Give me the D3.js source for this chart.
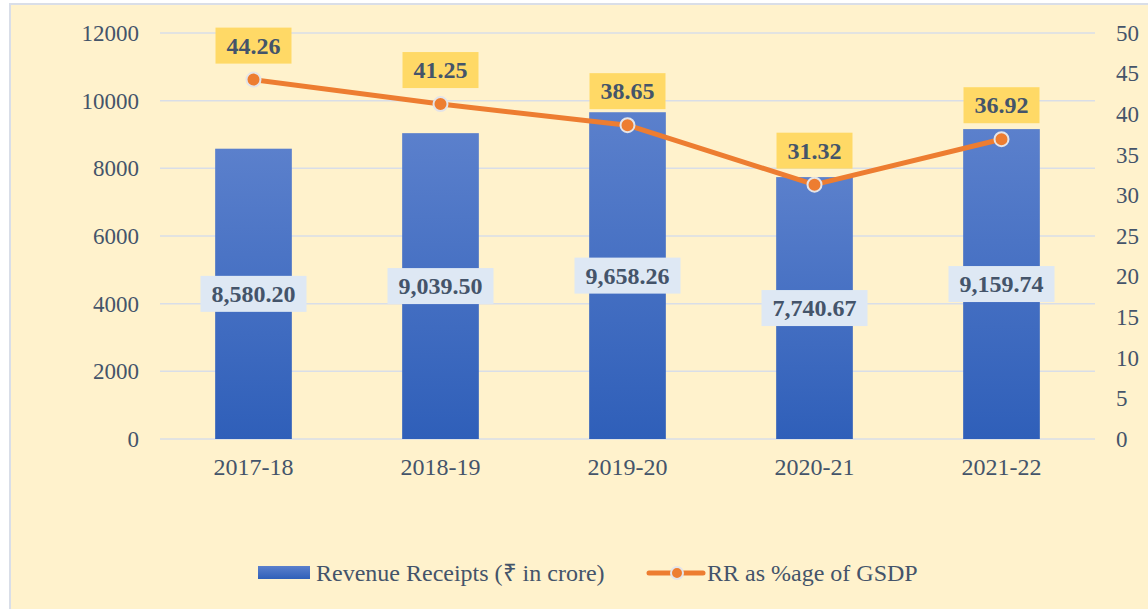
<!DOCTYPE html>
<html>
<head>
<meta charset="utf-8">
<script src="https://cdnjs.cloudflare.com/ajax/libs/d3/7.8.5/d3.min.js"></script>
<style>
  body { margin: 0; background: #fff; }
  .grid line { stroke: #D9DEE8; stroke-width: 1.5px; }
</style>
</head>
<body>
<script>
// data
var years = ["2017-18", "2018-19", "2019-20", "2020-21", "2021-22"];
var receipts = [8580.20, 9039.50, 9658.26, 7740.67, 9159.74];
var rrPct = [44.26, 41.25, 38.65, 31.32, 36.92];
var leftTicks = [0, 2000, 4000, 6000, 8000, 10000, 12000];
var rightTicks = [0, 5, 10, 15, 20, 25, 30, 35, 40, 45, 50];

var FONT = "'Liberation Serif', 'Times New Roman', serif";
var INK = "#44546A";

var W = 1148, H = 609;
var margin = {top: 33, right: 53, bottom: 170, left: 160},
    width = W - margin.left - margin.right,
    height = H - margin.top - margin.bottom;

var svg = d3.select("body").append("svg")
    .attr("width", W)
    .attr("height", H);

// chart background + border
svg.append("rect")
    .attr("x", 10).attr("y", 4)
    .attr("width", W + 20).attr("height", H + 20)
    .attr("fill", "#FFF2CC")
    .attr("stroke", "#D9DEE8")
    .attr("stroke-width", 2);

var defs = svg.append("defs");
var grad = defs.append("linearGradient")
    .attr("id", "barGrad")
    .attr("x1", 0).attr("y1", 0).attr("x2", 0).attr("y2", 1);
grad.append("stop").attr("offset", "0%").attr("stop-color", "#5B80CC");
grad.append("stop").attr("offset", "100%").attr("stop-color", "#2F5FB9");

var g = svg.append("g")
    .attr("transform", "translate(" + margin.left + "," + margin.top + ")");

var x = d3.scaleBand().domain(years).range([0, width]).paddingInner(0.59).paddingOuter(0.295);
var y = d3.scaleLinear().domain([0, 12000]).range([height, 0]);
var y2 = d3.scaleLinear().domain([0, 50]).range([height, 0]);

// gridlines
g.append("g").attr("class", "grid")
  .selectAll("line").data(leftTicks).enter().append("line")
    .attr("x1", 0).attr("x2", width)
    .attr("y1", d => y(d)).attr("y2", d => y(d));

function styleAxis(sel, size) {
  sel.select(".domain").remove();
  sel.attr("font-family", null).attr("font-size", null);
  sel.selectAll("text")
    .style("font-size", size + "px")
    .style("font-family", FONT)
    .attr("fill", INK);
}

// left axis
var yAxis = g.append("g")
    .call(d3.axisLeft(y).tickValues(leftTicks).tickFormat(d3.format("d")).tickSize(0).tickPadding(21));
styleAxis(yAxis, 23);

// right axis
var y2Axis = g.append("g")
    .attr("transform", "translate(" + width + ",0)")
    .call(d3.axisRight(y2).tickValues(rightTicks).tickSize(0).tickPadding(21));
styleAxis(y2Axis, 23);

// x axis
var xAxis = g.append("g")
    .attr("transform", "translate(0," + height + ")")
    .call(d3.axisBottom(x).tickSize(0).tickPadding(19));
styleAxis(xAxis, 24);

// bars
g.selectAll(".bar").data(receipts).enter().append("rect")
    .attr("class", "bar")
    .attr("x", (d, i) => x(years[i]))
    .attr("y", d => y(d))
    .attr("width", x.bandwidth())
    .attr("height", d => height - y(d))
    .attr("fill", "url(#barGrad)");

// line
var line = d3.line()
    .x((d, i) => x(years[i]) + x.bandwidth() / 2)
    .y(d => y2(d));
g.append("path")
    .datum(rrPct)
    .attr("fill", "none")
    .attr("stroke", "#ED7D31")
    .attr("stroke-width", 5)
    .attr("stroke-linejoin", "round")
    .attr("d", line);

g.selectAll(".dot").data(rrPct).enter().append("circle")
    .attr("cx", (d, i) => x(years[i]) + x.bandwidth() / 2)
    .attr("cy", d => y2(d))
    .attr("r", 7)
    .attr("fill", "#ED7D31")
    .attr("stroke", "#E4E4E8")
    .attr("stroke-width", 2);

// label helper
function label(cx, cy, txt, fill) {
  var t = g.append("text")
      .attr("x", cx).attr("y", cy)
      .attr("text-anchor", "middle")
      .attr("dy", "0.33em")
      .attr("fill", INK)
      .style("font-family", FONT)
      .style("font-size", "24px")
      .style("font-weight", "bold")
      .text(txt);
  var bb = t.node().getBBox();
  g.insert("rect", function() { return t.node(); })
      .attr("x", cx - bb.width / 2 - 11).attr("y", cy - 18)
      .attr("width", bb.width + 22).attr("height", 36)
      .attr("fill", fill);
}

var fmt = d3.format(",.2f");
receipts.forEach(function(d, i) {
  label(x(years[i]) + x.bandwidth() / 2, (y(d) + height) / 2, fmt(d), "#DEE8F4");
});
rrPct.forEach(function(d, i) {
  label(x(years[i]) + x.bandwidth() / 2, y2(d) - 34, d.toFixed(2), "#FFD966");
});

// legend
var lg = svg.append("g").attr("transform", "translate(0,573)");
lg.append("rect").attr("x", 258).attr("y", -7).attr("width", 52).attr("height", 13).attr("fill", "url(#barGrad)");
lg.append("text").attr("x", 316).attr("y", 0).attr("dy", "0.33em")
  .attr("fill", INK).style("font-family", FONT)
  .style("font-size", "24px").text("Revenue Receipts (₹ in crore)");
lg.append("line").attr("x1", 649).attr("x2", 703).attr("y1", 0).attr("y2", 0)
  .attr("stroke", "#ED7D31").attr("stroke-width", 5).attr("stroke-linecap", "round");
lg.append("circle").attr("cx", 677).attr("cy", 0).attr("r", 6)
  .attr("fill", "#ED7D31").attr("stroke", "#E4E4E8").attr("stroke-width", 2);
lg.append("text").attr("x", 707).attr("y", 0).attr("dy", "0.33em")
  .attr("fill", INK).style("font-family", FONT)
  .style("font-size", "24px").text("RR as %age of GSDP");
</script>
</body>
</html>
